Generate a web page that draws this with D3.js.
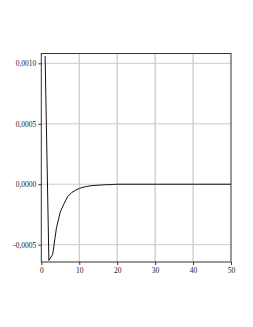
<!DOCTYPE html>
<html>
<head>
<meta charset="utf-8">
<script src="https://cdn.jsdelivr.net/npm/d3@7"></script>
<style>
  body { margin: 0; background: #fff; }
  .tick text { font-family: "Liberation Serif", serif; font-size: 7.5px; fill: #222; }
</style>
</head>
<body>
<div id="chart"></div>
<script>
// data
var xs = [1, 2, 3, 4, 5, 6, 7, 8, 9, 10, 11, 12, 13, 14, 15, 16, 17, 18, 19, 20, 25, 30, 35, 40, 45, 50];
var ys = [0.00106, -0.00063, -0.00058, -0.00036, -0.00023, -0.00016, -0.00010, -0.00007, -0.00005, -0.000035,
          -0.000025, -0.000018, -0.000013, -0.00001, -0.000008, -0.000006, -0.000004, -0.000003, -0.000002, 0,
          0, 0, 0, 0, 0, 0];
var xTicks = [0, 10, 20, 30, 40, 50];
var yTicks = [-0.0005, 0, 0.0005, 0.0010];

var width = 253, height = 327;
var mLeft = 41.3, mRight = 231, mTop = 53.5, mBottom = 262;

var x = d3.scaleLinear().domain([0, 50]).range([mLeft, mRight]);
var y = d3.scaleLinear().domain([-0.0005, 0.0010]).range([244.7, 63.3]);

var svg = d3.select("#chart").append("svg")
    .attr("width", width)
    .attr("height", height);

// grid
svg.selectAll(".vgrid").data(xTicks.slice(1, -1)).enter().append("line")
    .attr("x1", function(d) { return x(d); }).attr("x2", function(d) { return x(d); })
    .attr("y1", mTop).attr("y2", mBottom)
    .attr("stroke", "#bdbdbd").attr("stroke-width", 1);
svg.selectAll(".hgrid").data(yTicks).enter().append("line")
    .attr("x1", mLeft).attr("x2", mRight)
    .attr("y1", function(d) { return y(d); }).attr("y2", function(d) { return y(d); })
    .attr("stroke", "#cccccc").attr("stroke-width", 1);

// frame
svg.append("rect")
    .attr("x", mLeft).attr("y", mTop)
    .attr("width", mRight - mLeft).attr("height", mBottom - mTop)
    .attr("fill", "none").attr("stroke", "#333").attr("stroke-width", 1);

var fmt = function(d) { return d3.format(".4f")(d).replace(".", ",").replace("−", "-"); };

svg.append("g")
    .attr("transform", "translate(" + mLeft + ",0)")
    .attr("color", "#333")
    .call(d3.axisLeft(y).tickValues(yTicks).tickFormat(fmt).tickSize(3).tickPadding(2))
    .call(function(g) { g.select(".domain").remove(); });

svg.append("g")
    .attr("transform", "translate(0," + mBottom + ")")
    .attr("color", "#333")
    .call(d3.axisBottom(x).tickValues(xTicks).tickFormat(d3.format("d")).tickSize(3).tickPadding(3))
    .call(function(g) { g.select(".domain").remove(); });

var line = d3.line()
    .x(function(d, i) { return x(xs[i]); })
    .y(function(d) { return y(d); });

svg.append("path")
    .datum(ys)
    .attr("d", line)
    .attr("fill", "none")
    .attr("stroke", "#111")
    .attr("stroke-width", 1);
</script>
</body>
</html>
